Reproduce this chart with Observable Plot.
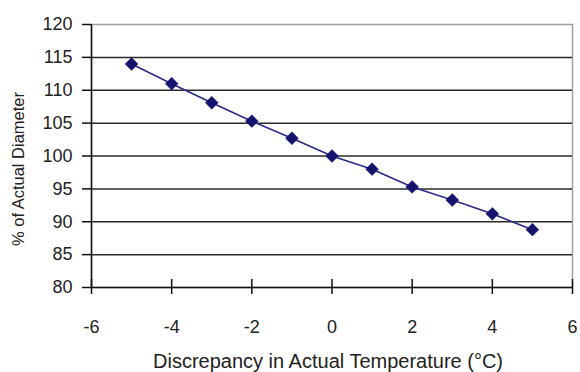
<!DOCTYPE html>
<html>
<head>
<meta charset="utf-8">
<script src="https://cdn.jsdelivr.net/npm/d3@7"></script>
<script src="https://cdn.jsdelivr.net/npm/@observablehq/plot@0.6"></script>
<style>
  html, body { margin: 0; padding: 0; background: #fff; }
  #chart svg { display: block; }
</style>
</head>
<body>
<div id="chart"></div>
<script>
const temps = [-5, -4, -3, -2, -1, 0, 1, 2, 3, 4, 5];
const diameters = [114.0, 111.0, 108.1, 105.3, 102.7, 100.0, 98.0, 95.3, 93.3, 91.2, 88.8];
const xTicks = [-6, -4, -2, 0, 2, 4, 6];
const yTicks = [80, 85, 90, 95, 100, 105, 110, 115, 120];
const gridValues = [85, 90, 95, 100, 105, 110, 115];
const xLabel = "Discrepancy in Actual Temperature (°C)";
const yLabel = "% of Actual Diameter";

const data = temps.map((t, i) => ({t, d: diameters[i]}));
const navy = "#14146e";
const font = "'Liberation Sans', Arial, sans-serif";
const xMin = xTicks[0];
const yMin = yTicks[0];

const chart = Plot.plot({
  width: 580,
  height: 372,
  marginLeft: 91,
  marginRight: 8,
  marginTop: 24,
  marginBottom: 85,
  style: {fontFamily: font, fontSize: "17px", color: "#222", background: "#fff"},
  x: {domain: [-6, 6], axis: null},
  y: {domain: [80, 120], axis: null},
  marks: [
    Plot.frame({stroke: "#a0a0a0", strokeWidth: 1.5}),
    Plot.ruleY(gridValues, {stroke: "#2a2a2a", strokeWidth: 1.5}),
    Plot.ruleX([xMin], {stroke: "#111", strokeWidth: 1.5}),
    Plot.ruleY([yMin], {stroke: "#111", strokeWidth: 1.5}),
    Plot.ruleX(xTicks, {x: d => d, y1: yMin, y2: yMin, insetTop: -8, insetBottom: -7, stroke: "#111", strokeWidth: 1.5}),
    Plot.ruleY(yTicks, {y: d => d, x1: xMin, x2: xMin, insetLeft: -9, insetRight: 0, stroke: "#111", strokeWidth: 1.5}),
    Plot.text(yTicks, {x: xMin, y: d => d, text: d => String(d), textAnchor: "end", dx: -19, fontSize: 18, fill: "#222"}),
    Plot.text(xTicks, {x: d => d, y: yMin, text: d => String(d), textAnchor: "middle", dy: 40, fontSize: 18, fill: "#222"}),
    Plot.line(data, {x: "t", y: "d", stroke: "#2a2a8a", strokeWidth: 1.6}),
    Plot.dot(data, {x: "t", y: "d", symbol: "diamond2", r: 5.8, fill: navy, stroke: navy, strokeWidth: 0.5}),
    Plot.text([xLabel], {frameAnchor: "bottom", lineAnchor: "bottom", textAnchor: "middle", dy: 80, dx: -4, fontSize: 20, fill: "#222"}),
    Plot.text([yLabel], {frameAnchor: "left", textAnchor: "middle", lineAnchor: "middle", rotate: -90, dx: -73, dy: 13, fontSize: 16.5, fill: "#222"})
  ]
});
document.getElementById("chart").appendChild(chart);
</script>
</body>
</html>
